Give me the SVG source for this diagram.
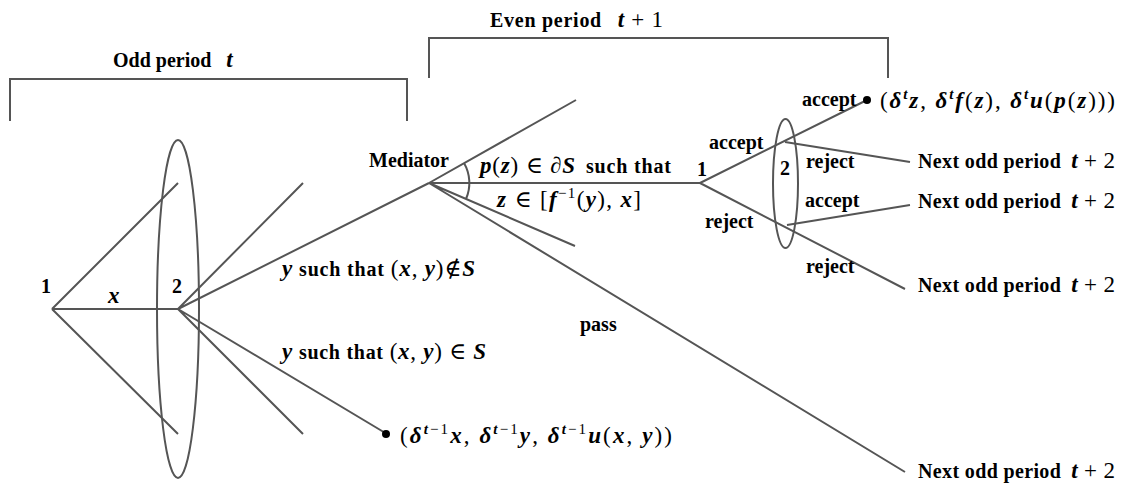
<svg xmlns="http://www.w3.org/2000/svg" width="1125" height="490" viewBox="0 0 1125 490">
<style>
.ln{stroke:#555;stroke-width:2;fill:none}
.b{font-family:"Liberation Serif","Times New Roman",serif;font-weight:bold;font-size:20px;fill:#000}
.i{font-family:"Liberation Serif","Times New Roman",serif;font-style:italic;font-weight:bold;font-size:23px}
.n{font-family:"Liberation Serif","DejaVu Serif",serif;font-style:normal;font-weight:normal;font-size:23px}
.s{font-size:15px}
.dot{fill:#000}
</style>
<rect width="1125" height="490" fill="#fff"/>
<g id="brackets">
<path class="ln" d="M10 121 V79 H407 V121"/>
<path class="ln" d="M429 78 V38 H888 V78"/>
<text class="b" x="113" y="67">Odd period <tspan class="i" dx="10">t</tspan></text>
<text class="b" x="490" y="27" textLength="173" lengthAdjust="spacing">Even period <tspan class="i" dx="10">t</tspan><tspan class="n"> + 1</tspan></text>
</g>
<g id="connectors">
<path class="ln" d="M52 309 L178 183 M52 309 L178 309 M52 309 L178 434"/>
<path class="ln" d="M178 309 L303 183 M178 309 L303 434 M178 309 L429 183 M178 309 L387 434"/>
<path class="ln" d="M429 183 L576 100 M429 183 L700 183 M429 183 L575 246 M429 183 L905 472"/>
<path class="ln" d="M464 163 A40 40 0 0 1 466 199"/>
<path class="ln" d="M700 183 L867 100 M700 183 L905 289"/>
<path class="ln" d="M785 142 L910 162 M787 225 L910 205"/>
</g>
<g id="node-p1">
<text class="b" x="41" y="293">1</text>
<text class="i" x="108" y="303">x</text>
</g>
<g id="node-p2">
<ellipse class="ln" cx="178" cy="309" rx="21" ry="169"/>
<text class="b" x="172" y="293">2</text>
</g>
<g id="node-mediator">
<text class="b" x="369" y="167">Mediator</text>
<text class="b" x="480" y="173" textLength="191" lengthAdjust="spacing"><tspan class="i">p</tspan><tspan class="n">(</tspan><tspan class="i">z</tspan><tspan class="n">) ∈ ∂</tspan><tspan class="i">S</tspan><tspan dx="10">such that</tspan></text>
<text class="n" x="497" y="207" textLength="144" lengthAdjust="spacing"><tspan class="i">z</tspan> ∈ [<tspan class="i">f</tspan><tspan class="s" dy="-9">−1</tspan><tspan dy="9">(</tspan><tspan class="i">y</tspan>), <tspan class="i">x</tspan>]</text>
<text class="b" x="580" y="331">pass</text>
</g>
<g id="labels-p2">
<text class="b" x="282" y="276" textLength="193" lengthAdjust="spacing"><tspan class="i">y</tspan><tspan dx="6">such that</tspan><tspan class="n" dx="6">(</tspan><tspan class="i">x</tspan><tspan class="n">, </tspan><tspan class="i">y</tspan><tspan class="n">)∉</tspan><tspan class="i">S</tspan></text>
<text class="b" x="282" y="359" textLength="204" lengthAdjust="spacing"><tspan class="i">y</tspan><tspan dx="6">such that</tspan><tspan class="n" dx="6">(</tspan><tspan class="i">x</tspan><tspan class="n">, </tspan><tspan class="i">y</tspan><tspan class="n">) ∈ </tspan><tspan class="i">S</tspan></text>
</g>
<g id="terminal-1">
<circle class="dot" cx="386" cy="434" r="4"/>
<text class="n" x="400" y="443" textLength="272" lengthAdjust="spacing">(<tspan class="i">δ</tspan><tspan class="s i" dy="-9">t</tspan><tspan class="s">−1</tspan><tspan class="i" dy="9">x</tspan>, <tspan class="i">δ</tspan><tspan class="s i" dy="-9">t</tspan><tspan class="s">−1</tspan><tspan class="i" dy="9">y</tspan>, <tspan class="i">δ</tspan><tspan class="s i" dy="-9">t</tspan><tspan class="s">−1</tspan><tspan class="i" dy="9">u</tspan>(<tspan class="i">x</tspan>, <tspan class="i">y</tspan>))</text>
</g>
<g id="node-p1-even">
<text class="b" x="697" y="176">1</text>
<text class="b" x="709" y="149">accept</text>
<text class="b" x="705" y="228">reject</text>
</g>
<g id="node-p2-even">
<ellipse class="ln" cx="785.5" cy="183.5" rx="12.5" ry="64.5"/>
<text class="b" x="780" y="175">2</text>
<text class="b" x="806" y="168">reject</text>
<text class="b" x="805" y="207">accept</text>
<text class="b" x="806" y="273">reject</text>
</g>
<g id="terminal-2">
<text class="b" x="802" y="106">accept</text>
<circle class="dot" cx="867" cy="100" r="4"/>
<text class="n" x="880" y="108" textLength="235" lengthAdjust="spacing">(<tspan class="i">δ</tspan><tspan class="s i" dy="-9">t</tspan><tspan class="i" dy="9">z</tspan>, <tspan class="i">δ</tspan><tspan class="s i" dy="-9">t</tspan><tspan class="i" dy="9">f</tspan>(<tspan class="i">z</tspan>), <tspan class="i">δ</tspan><tspan class="s i" dy="-9">t</tspan><tspan class="i" dy="9">u</tspan>(<tspan class="i">p</tspan>(<tspan class="i">z</tspan>)))</text>
</g>
<g id="next-periods">
<text class="b" x="918" y="168" textLength="197" lengthAdjust="spacing">Next odd period<tspan class="i" dx="10">t</tspan><tspan class="n"> + 2</tspan></text>
<text class="b" x="918" y="208" textLength="197" lengthAdjust="spacing">Next odd period<tspan class="i" dx="10">t</tspan><tspan class="n"> + 2</tspan></text>
<text class="b" x="918" y="292" textLength="197" lengthAdjust="spacing">Next odd period<tspan class="i" dx="10">t</tspan><tspan class="n"> + 2</tspan></text>
<text class="b" x="918" y="478" textLength="197" lengthAdjust="spacing">Next odd period<tspan class="i" dx="10">t</tspan><tspan class="n"> + 2</tspan></text>
</g>
</svg>
